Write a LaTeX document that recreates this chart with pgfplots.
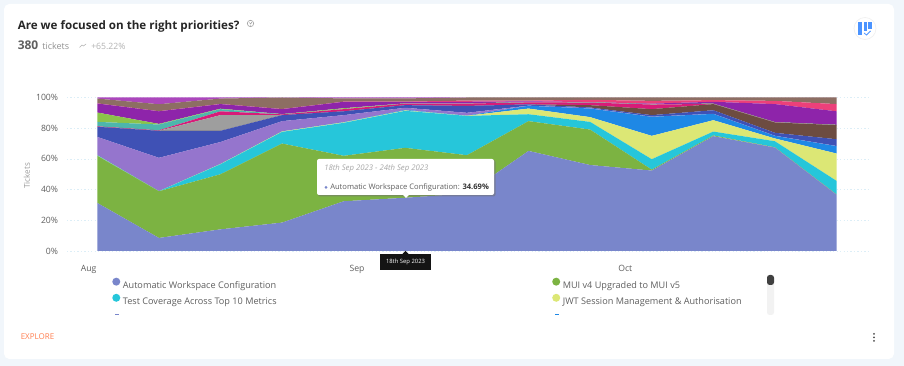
\documentclass[border=0pt]{standalone}
\usepackage{fontspec}
\setmainfont{Open Sans}
\usepackage{pgfplots}
\usepackage{pgfplotstable}
\pgfplotsset{compat=1.18}
\newcommand\fs[1]{\fontsize{#1}{#1}\selectfont}
\definecolor{cA}{HTML}{7986CB}
\definecolor{cB}{HTML}{7CB342}
\definecolor{cC}{HTML}{26C6DA}
\definecolor{cD}{HTML}{DCE775}
\definecolor{cE}{HTML}{1E88E5}
\definecolor{cF}{HTML}{9575CD}
\definecolor{cG}{HTML}{3F51B5}
\definecolor{cH}{HTML}{6D4C41}
\definecolor{cI}{HTML}{9E9E9E}
\definecolor{cJ}{HTML}{D81B78}
\definecolor{cK}{HTML}{4DB6AC}
\definecolor{cL}{HTML}{8BC34A}
\definecolor{cM}{HTML}{8E24AA}
\definecolor{cN}{HTML}{EC407A}
\definecolor{cO}{HTML}{8D6E63}
\definecolor{cP}{HTML}{AB47BC}
\definecolor{pagebg}{HTML}{F1F6FB}
\definecolor{txt}{HTML}{5F5F5F}
\definecolor{gridc}{HTML}{DCEEF7}
\definecolor{expl}{HTML}{FF7F50}
\pgfplotstableread{
k s1 s2 s3 s4 s5 s6 s7 s8 s9 s10 s11 s12 s13 s14 s15 s16
0 31.3 30.7 0.2 0.2 0.1 11.8 6.6 0 0 0.3 2.9 6.1 5.9 0.1 3.1 0.7
1 8.5 30.4 0 0.1 0 21.7 17.6 0 0 0.3 3.8 0.4 8.2 0.1 4.5 4.4
2 14.1 35.9 6.5 0.2 0.1 14.2 7.3 0 10.2 2.5 1.4 0.3 3 0.1 3.5 0.7
3 18.5 51.5 7.6 0.3 0.1 6.6 3.9 0 0 0.5 0.1 0.1 3.2 0.1 7.5 0
4 32.4 29.6 21.5 0.3 0.2 4.5 2.5 0 0 1.4 0.1 0.5 4.2 0.1 2.1 0.6
5 34.69 32.51 24.1 0.3 0.4 1.3 1.7 0 0 1 0.1 0.1 1 0.1 2.1 0.6
6 37.4 25 25.6 0.1 0.1 1.8 4.5 0 0 1.5 0.1 0.1 1 0.8 2 0
7 65.2 19.4 4.5 3.7 1.8 0.1 0.8 0 0 1.3 0.1 0.1 0.5 0.5 2 0
8 56 23.1 5 3.1 5.6 0.2 0.5 1.5 0 1.7 0.1 0.1 0.1 1.5 1.5 0
9 52.4 0.6 6.8 15.2 12.4 0.1 1 3.9 0 3 0.1 0.1 0.4 1.8 2.2 0
10 74.8 0.5 2.5 7.4 4.1 0.1 2.3 4 0 0.1 0.1 0.1 1.2 1.1 1.7 0
11 67.4 0.2 3.9 1.8 1.7 0.1 1.9 6.7 0 0.1 0.1 0.1 11.7 2.1 2.2 0
12 36.7 0.2 8.8 17.8 4.8 0.1 4.4 9.2 0 0 0.1 0.1 8.8 4.7 4.3 0
}\data
\begin{document}
\begin{tikzpicture}
\begin{scope}[x=0.75pt,y=-0.75pt,yshift=274.5pt]
\path[use as bounding box] (0,0) rectangle (904,366);
\fill[pagebg] (0,0) rectangle (904,366);
\fill[white,rounded corners=4pt] (4,4) rectangle (894,359);
\node[anchor=base west,inner sep=0,font=\fs{8.72}\bfseries,text=black!85] at (17.5,29.5) {Are we focused on the right priorities?};
\draw[gray!70,line width=0.5pt] (250.5,23.5) circle (3.2);
\fill[gray!70] (250.5,25.2) circle (0.5);
\draw[gray!70,line width=0.4pt] (249.4,22.6) arc (180:-20:1.1);
\node[anchor=base west,inner sep=0,font=\fs{9}\bfseries,text=txt] at (17.5,50) {380};
\node[anchor=base west,inner sep=0,font=\fs{6.8},text=gray!85] at (42,49.5) {tickets};
\draw[gray!60,line width=0.4pt] (79.5,47.5) -- (82,45) -- (83.5,46) -- (86,44);
\node[anchor=base west,inner sep=0,font=\fs{6.5},text=gray!60] at (91,49.5) {+65.22\%};
\draw[gray!12,line width=0.5pt,fill=white] (865,28.5) circle (11);
\fill[blue!60!cyan!70] (858,22) rectangle (862,35);
\fill[blue!60!cyan!70] (863.5,22) rectangle (867,31);
\fill[blue!60!cyan!70] (868,22) rectangle (872,29);
\draw[blue!60!cyan!70,line width=0.6pt] (864,33) -- (866.5,35) -- (870.5,31);
\end{scope}
\begin{axis}[
  at={(50.25pt,86.25pt)},anchor=south west,
  scale only axis,width=600.75pt,height=115.125pt,
  xmin=-0.4919,xmax=12.511,ymin=0,ymax=100,
  stack plots=y,
  axis line style={draw=none},
  major tick length=0pt,
  ytick={0,20,40,60,80,100},
  yticklabels={0\%,20\%,40\%,60\%,80\%,100\%},
  xtick={-0.14,4.216,8.57},
  xticklabels={Aug,Sep,Oct},
  ymajorgrids,
  grid style={dash pattern=on 0.9pt off 1.7pt,line width=0.5pt,gridc},
  tick label style={font=\fs{6.5},text=txt,inner sep=0pt},
  yticklabel style={xshift=-6.5pt},
  xticklabel style={anchor=base,yshift=-15.2pt},
  ylabel={Tickets},
  ylabel style={font=\fs{6},text=gray!80,at={(axis description cs:-0.05,0.49)},anchor=center},
  legend columns=2,
  legend cell align=left,
  legend style={
    at={(axis description cs:0.0562,-0.172)},anchor=north west,
    draw=none,fill=none,inner sep=0pt,row sep=2.75pt,
    font=\fs{6.85},text=txt,
    nodes={inner sep=0pt},
    /tikz/column 1/.style={column sep=1.95pt},
    /tikz/column 3/.style={column sep=1.95pt},
  },
  legend image code/.code={\fill[#1] (0pt,0.26em) circle (3pt);},
]
\addplot[fill=cA,draw=none] table[x=k,y=s1] {\data} \closedcycle;
\addlegendentry{\makebox[322pt][l]{\rule[-2pt]{0pt}{8pt}Automatic Workspace Configuration}}
\addplot[fill=cB,draw=none] table[x=k,y=s2] {\data} \closedcycle;
\addlegendentry{\rule[-2pt]{0pt}{8pt}MUI v4 Upgraded to MUI v5}
\addplot[fill=cC,draw=none] table[x=k,y=s3] {\data} \closedcycle;
\addlegendentry{\makebox[322pt][l]{\rule[-2pt]{0pt}{8pt}Test Coverage Across Top 10 Metrics}}
\addplot[fill=cD,draw=none] table[x=k,y=s4] {\data} \closedcycle;
\addlegendentry{\rule[-2pt]{0pt}{8pt}JWT Session Management \& Authorisation}
\addplot[fill=cE,draw=none,forget plot] table[x=k,y=s5] {\data} \closedcycle;
\addplot[fill=cF,draw=none,forget plot] table[x=k,y=s6] {\data} \closedcycle;
\addplot[fill=cG,draw=none,forget plot] table[x=k,y=s7] {\data} \closedcycle;
\addplot[fill=cH,draw=none,forget plot] table[x=k,y=s8] {\data} \closedcycle;
\addplot[fill=cI,draw=none,forget plot] table[x=k,y=s9] {\data} \closedcycle;
\addplot[fill=cJ,draw=none,forget plot] table[x=k,y=s10] {\data} \closedcycle;
\addplot[fill=cK,draw=none,forget plot] table[x=k,y=s11] {\data} \closedcycle;
\addplot[fill=cL,draw=none,forget plot] table[x=k,y=s12] {\data} \closedcycle;
\addplot[fill=cM,draw=none,forget plot] table[x=k,y=s13] {\data} \closedcycle;
\addplot[fill=cN,draw=none,forget plot] table[x=k,y=s14] {\data} \closedcycle;
\addplot[fill=cO,draw=none,forget plot] table[x=k,y=s15] {\data} \closedcycle;
\addplot[fill=cP,draw=none,forget plot] table[x=k,y=s16] {\data} \closedcycle;
\end{axis}
\begin{scope}[x=0.75pt,y=-0.75pt,yshift=274.5pt]
% tooltip
\fill[black!55,opacity=0.55,rounded corners=1.5pt] (318,160) rectangle (495.5,196.5);
\fill[white,rounded corners=1.5pt] (317,159) rectangle (494,195);
\fill[white] (403,195) -- (406,198) -- (409,195) -- cycle;
\node[anchor=base west,inner sep=0,font=\fs{5.8}\itshape,text=gray!70] at (324,171) {18th Sep 2023 - 24th Sep 2023};
\fill[cA] (326,187.5) circle (1.5);
\node[anchor=base west,inner sep=0,font=\fs{5.7},text=txt] at (330,190) {Automatic Workspace Configuration: \textbf{\textcolor{black!80}{34.69\%}}};
% date flag
\fill[black!92] (380,254) rectangle (431,270);
\fill[black!92] (402.5,254) -- (405.5,251) -- (408.5,254) -- cycle;
\node[inner sep=0,font=\fs{4.4},text=white] at (405.5,262) {18th Sep 2023};
% clipped third legend row
\fill[cA] (115,314.5) rectangle (118.5,315.5);
\fill[cE] (555,314.5) rectangle (558.5,315.5);
% scrollbar
\fill[gray!10,rounded corners=2pt] (767,275) rectangle (774,315);
\fill[black!75,rounded corners=2pt] (767,275) rectangle (774,285);
% footer
\node[anchor=base west,inner sep=0,font=\fs{6},text=expl] at (20.5,339.5) {EXPLORE};
\fill[black!70] (874,334) circle (1) (874,337.5) circle (1) (874,341) circle (1);
\end{scope}
\end{tikzpicture}
\end{document}
